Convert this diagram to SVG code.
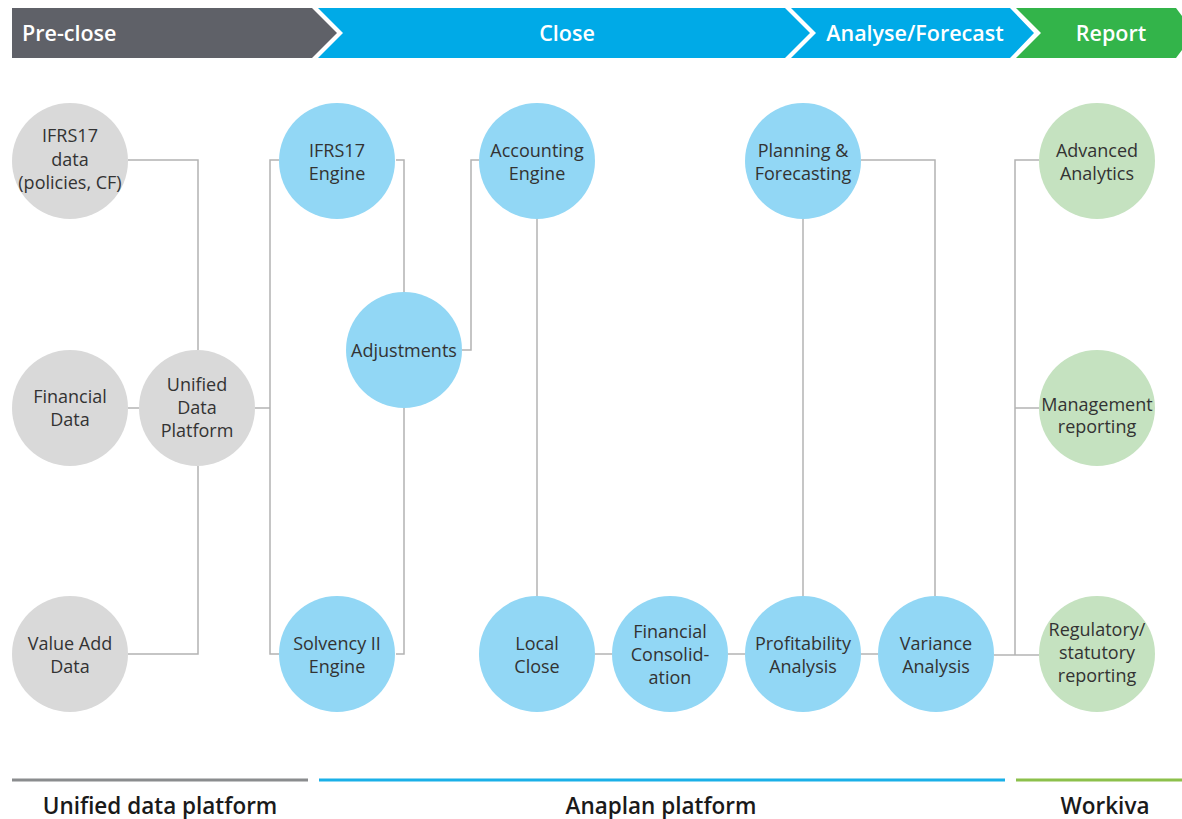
<svg xmlns="http://www.w3.org/2000/svg" width="1182" height="819" viewBox="0 0 1182 819">
<style>
text{font-family:"Open Sans","Liberation Sans",sans-serif}
.hd{font-size:21.5px;font-weight:600;fill:#fff}
.ft{font-size:22.5px;font-weight:600;fill:#1a1a1a;text-anchor:middle}
.lb{font-size:18px;fill:#333;text-anchor:middle}
.g{fill:#d9d9d9}
.b{fill:#92d7f5}
.gr{fill:#c5e2c0}
.cn{fill:none;stroke:#b3b3b3;stroke-width:1.5}
</style>
<g id="header">
<polygon points="12,8 312,8 337,33 312,58 12,58" fill="#5f6168"/>
<polygon points="318,8 785,8 810,33 785,58 318,58 343,33" fill="#00aae7"/>
<polygon points="791,8 1010,8 1034,33 1010,58 791,58 816,33" fill="#00aae7"/>
<polygon points="1016,8 1176,8 1182,16 1182,50 1176,58 1016,58 1041,33" fill="#33b44a"/>
<text class="hd" x="22" y="41">Pre-close</text>
<text class="hd" x="567" y="41" text-anchor="middle">Close</text>
<text class="hd" x="915" y="41" text-anchor="middle">Analyse/Forecast</text>
<text class="hd" x="1111" y="41" text-anchor="middle">Report</text>
</g>
<g id="connectors">
<polyline class="cn" points="128,160 198,160 198,350"/>
<polyline class="cn" points="128,654 198,654 198,466"/>
<line class="cn" x1="128" y1="408" x2="139" y2="408"/>
<line class="cn" x1="255" y1="408" x2="270" y2="408"/>
<polyline class="cn" points="279,160 270,160 270,654 279,654"/>
<polyline class="cn" points="396,160 404,160 404,292"/>
<polyline class="cn" points="396,654 404,654 404,408"/>
<polyline class="cn" points="462,350 471,350 471,160 479,160"/>
<line class="cn" x1="537" y1="219" x2="537" y2="596"/>
<line class="cn" x1="595" y1="654" x2="612" y2="654"/>
<line class="cn" x1="728" y1="654" x2="745" y2="654"/>
<line class="cn" x1="861" y1="654" x2="878" y2="654"/>
<line class="cn" x1="803" y1="219" x2="803" y2="596"/>
<polyline class="cn" points="861,160 935,160 935,596"/>
<line class="cn" x1="994" y1="655" x2="1039" y2="655"/>
<polyline class="cn" points="1039,160 1015,160 1015,655"/>
<line class="cn" x1="1015" y1="408" x2="1039" y2="408"/>
</g>
<g id="n-ifrs17data"><circle class="g" cx="70" cy="161" r="58"/><text class="lb" x="70" y="142">IFRS17</text><text class="lb" x="70" y="166">data</text><text class="lb" x="70" y="189">(policies, CF)</text></g>
<g id="n-financialdata"><circle class="g" cx="70" cy="408" r="58"/><text class="lb" x="70" y="403">Financial</text><text class="lb" x="70" y="426">Data</text></g>
<g id="n-valueadd"><circle class="g" cx="70" cy="654" r="58"/><text class="lb" x="70" y="650">Value Add</text><text class="lb" x="70" y="673">Data</text></g>
<g id="n-udp"><circle class="g" cx="197" cy="408" r="58"/><text class="lb" x="197" y="391">Unified</text><text class="lb" x="197" y="414">Data</text><text class="lb" x="197" y="437">Platform</text></g>
<g id="n-ifrs17engine"><circle class="b" cx="337" cy="161" r="58"/><text class="lb" x="337" y="157">IFRS17</text><text class="lb" x="337" y="180">Engine</text></g>
<g id="n-solvency"><circle class="b" cx="337" cy="654" r="58"/><text class="lb" x="337" y="650">Solvency II</text><text class="lb" x="337" y="673">Engine</text></g>
<g id="n-adjustments"><circle class="b" cx="404" cy="350" r="58"/><text class="lb" x="404" y="357">Adjustments</text></g>
<g id="n-accounting"><circle class="b" cx="537" cy="161" r="58"/><text class="lb" x="537" y="157">Accounting</text><text class="lb" x="537" y="180">Engine</text></g>
<g id="n-localclose"><circle class="b" cx="537" cy="654" r="58"/><text class="lb" x="537" y="650">Local</text><text class="lb" x="537" y="673">Close</text></g>
<g id="n-finconsol"><circle class="b" cx="670" cy="654" r="58"/><text class="lb" x="670" y="638">Financial</text><text class="lb" x="670" y="661">Consolid-</text><text class="lb" x="670" y="684">ation</text></g>
<g id="n-planning"><circle class="b" cx="803" cy="161" r="58"/><text class="lb" x="803" y="157">Planning &amp;</text><text class="lb" x="803" y="180">Forecasting</text></g>
<g id="n-profitability"><circle class="b" cx="803" cy="654" r="58"/><text class="lb" x="803" y="650">Profitability</text><text class="lb" x="803" y="673">Analysis</text></g>
<g id="n-variance"><circle class="b" cx="936" cy="654" r="58"/><text class="lb" x="936" y="650">Variance</text><text class="lb" x="936" y="673">Analysis</text></g>
<g id="n-advanced"><circle class="gr" cx="1097" cy="161" r="58"/><text class="lb" x="1097" y="157">Advanced</text><text class="lb" x="1097" y="180">Analytics</text></g>
<g id="n-management"><circle class="gr" cx="1097" cy="408" r="58"/><text class="lb" x="1097" y="411">Management</text><text class="lb" x="1097" y="433">reporting</text></g>
<g id="n-regulatory"><circle class="gr" cx="1097" cy="654" r="58"/><text class="lb" x="1097" y="636">Regulatory/</text><text class="lb" x="1097" y="659">statutory</text><text class="lb" x="1097" y="682">reporting</text></g>
<g id="footer">
<line x1="12" y1="780" x2="308" y2="780" stroke="#8a8c8e" stroke-width="3"/>
<line x1="319" y1="780" x2="1005" y2="780" stroke="#1ab0e8" stroke-width="3"/>
<line x1="1016" y1="780" x2="1182" y2="780" stroke="#8cc04b" stroke-width="3"/>
<text class="ft" x="160" y="814">Unified data platform</text>
<text class="ft" x="661" y="814">Anaplan platform</text>
<text class="ft" x="1105" y="814">Workiva</text>
</g>
</svg>
